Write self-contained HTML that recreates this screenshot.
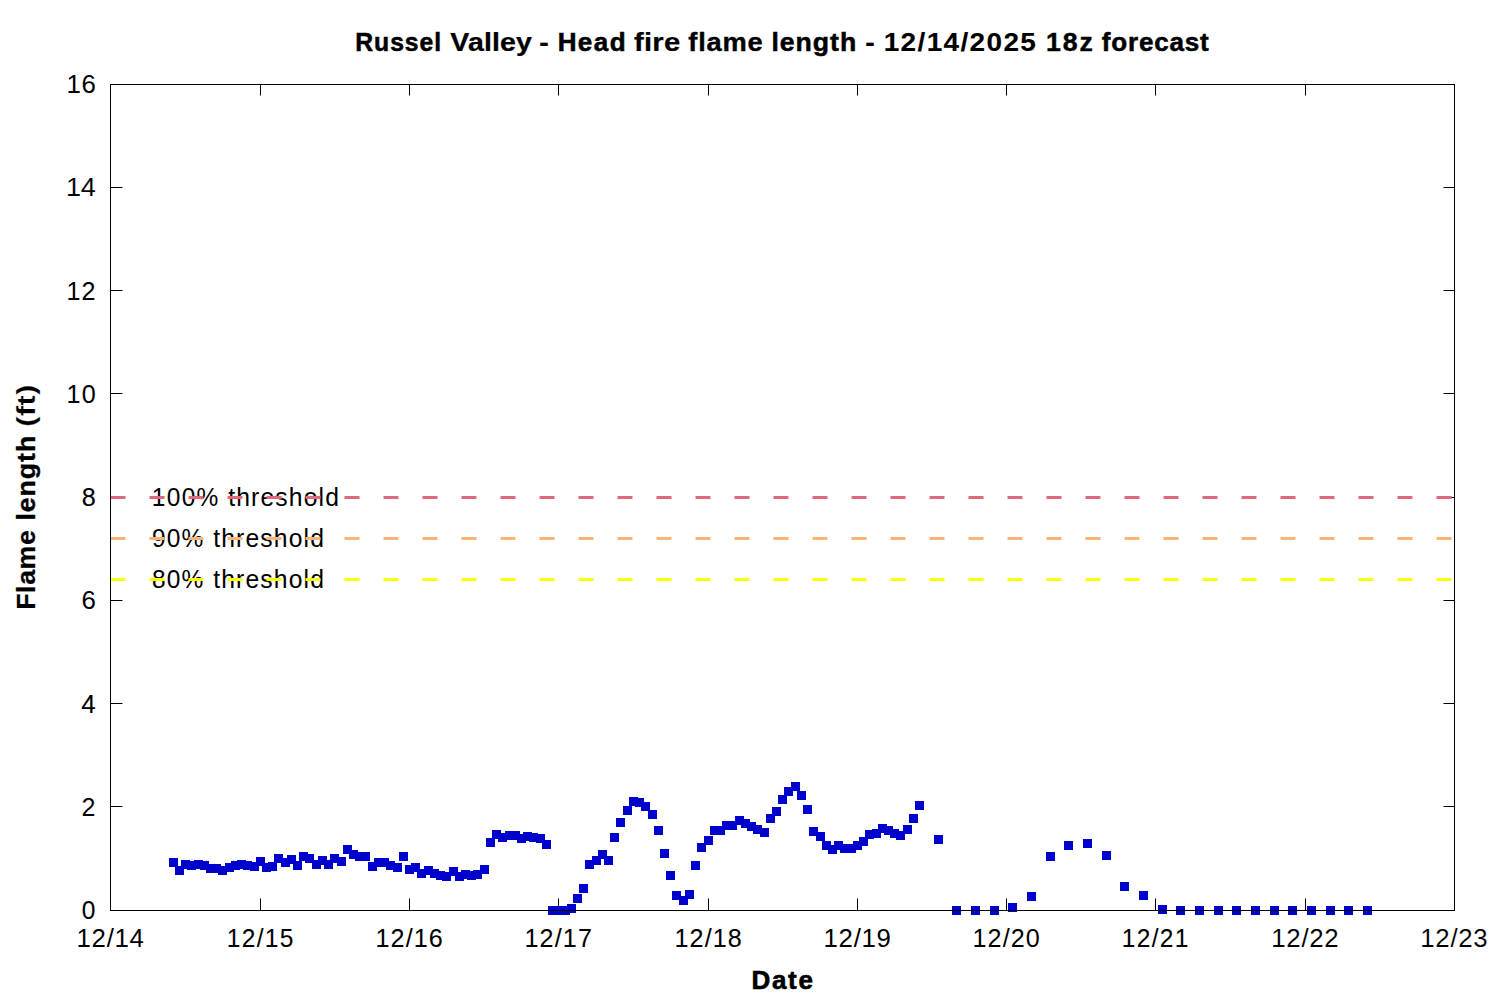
<!DOCTYPE html>
<html lang="en"><head><meta charset="utf-8"><title>Russel Valley - Head fire flame length</title>
<style>html,body{margin:0;padding:0;background:#fff;}body{width:1500px;height:1000px;overflow:hidden;font-family:"Liberation Sans",sans-serif;}svg{display:block;}text{font-family:"Liberation Sans",sans-serif;fill:#000;}.b{font-weight:bold;}</style>
</head><body>
<svg width="1500" height="1000" viewBox="0 0 1500 1000">
<rect x="0" y="0" width="1500" height="1000" fill="#ffffff"/>
<g id="title">
<text transform="translate(355.313 51) scale(0.975 1)" font-size="25.4" class="b" letter-spacing="0.95" stroke="#000" stroke-width="0.52">Russel</text>
<text transform="translate(450.313 51) scale(1.125 1)" font-size="25.4" class="b" letter-spacing="0.1" stroke="#000" stroke-width="0.25">Valley</text>
<text transform="translate(539.25 51) scale(1.125 1)" font-size="25.4" class="b" stroke="#000" stroke-width="0.25">-</text>
<text transform="translate(557.625 51) scale(1.025 1)" font-size="25.4" class="b" letter-spacing="1.4" stroke="#000" stroke-width="0.54">Head</text>
<text transform="translate(633.875 51) scale(1.15 1)" font-size="25.4" class="b" letter-spacing="0.25" stroke="#000" stroke-width="0.25">fire</text>
<text transform="translate(688.312 51) scale(1.075 1)" font-size="25.4" class="b" letter-spacing="0.7" stroke="#000" stroke-width="0.37">flame</text>
<text transform="translate(771.5 51) scale(1.05 1)" font-size="25.4" class="b" letter-spacing="0.9" stroke="#000" stroke-width="0.48">length</text>
<text transform="translate(865.25 51) scale(1.125 1)" font-size="25.4" class="b" stroke="#000" stroke-width="0.25">-</text>
<text transform="translate(883.688 51) scale(1.1 1)" font-size="25.4" class="b" letter-spacing="1.25" stroke="#000" stroke-width="0.1">12/14/2025</text>
<text transform="translate(1046 51) scale(1.05 1)" font-size="25.4" class="b" letter-spacing="1.8" stroke="#000" stroke-width="0.43">18z</text>
<text transform="translate(1101.75 51) scale(1.025 1)" font-size="25.4" class="b" letter-spacing="0.8" stroke="#000" stroke-width="0.52">forecast</text>
</g>
<g id="xlabel">
<text transform="translate(751.375 989) scale(1.025 1)" font-size="25.4" class="b" letter-spacing="1.7" stroke="#000" stroke-width="0.6">Date</text>
</g>
<g id="ylabel" transform="translate(35,610) rotate(-90)">
<text transform="translate(0.189 0) scale(1.05 1)" font-size="25.4" class="b" letter-spacing="0.6" stroke="#000" stroke-width="0.26">Flame</text>
<text transform="translate(89.5 0) scale(1.05 1)" font-size="25.4" class="b" letter-spacing="0.9" stroke="#000" stroke-width="0.33">length</text>
<text transform="translate(183.25 0) scale(1.2 1)" font-size="25.4" class="b" letter-spacing="0.4" stroke="#fff" stroke-width="0.19">(ft)</text>
</g>
<g id="yt">
<text transform="translate(81.75 919) scale(0.95 1)" font-size="25.8" stroke="#000" stroke-width="0.12">0</text>
<text transform="translate(81.5 816) scale(0.975 1)" font-size="25.8" stroke="#fff" stroke-width="0.07">2</text>
<text transform="translate(81.25 713) scale(1 1)" font-size="25.8" stroke="#000" stroke-width="0.13">4</text>
<text transform="translate(81.5 609) scale(1 1)" font-size="25.8">6</text>
<text transform="translate(81.75 506) scale(0.975 1)" font-size="25.8" stroke="#000" stroke-width="0.14">8</text>
<text transform="translate(66.5 403) scale(0.975 1)" font-size="25.8" letter-spacing="1.4" stroke="#000" stroke-width="0.07">10</text>
<text transform="translate(66.5 300) scale(0.975 1)" font-size="25.8" letter-spacing="1">12</text>
<text transform="translate(66 196) scale(1.05 1)" font-size="25.8" letter-spacing="-0.4" stroke="#fff" stroke-width="0.08">14</text>
<text transform="translate(66.5 93) scale(1 1)" font-size="25.8" letter-spacing="0.6">16</text>
</g>
<g id="xt">
<text transform="translate(76.562 947) scale(1 1)" font-size="25.8" letter-spacing="0.7">12/14</text>
<text transform="translate(226.75 947) scale(0.95 1)" font-size="25.8" letter-spacing="1.4" stroke="#000" stroke-width="0.07">12/15</text>
<text transform="translate(375.562 947) scale(0.975 1)" font-size="25.8" letter-spacing="1.1" stroke="#000" stroke-width="0.07">12/16</text>
<text transform="translate(524.375 947) scale(0.975 1)" font-size="25.8" letter-spacing="1.2" stroke="#000" stroke-width="0.08">12/17</text>
<text transform="translate(674.562 947) scale(0.975 1)" font-size="25.8" letter-spacing="1.1" stroke="#000" stroke-width="0.08">12/18</text>
<text transform="translate(823.562 947) scale(1 1)" font-size="25.8" letter-spacing="0.7">12/19</text>
<text transform="translate(972.438 947) scale(0.975 1)" font-size="25.8" letter-spacing="1.15">12/20</text>
<text transform="translate(1121.75 947) scale(0.95 1)" font-size="25.8" letter-spacing="1.4" stroke="#000" stroke-width="0.09">12/21</text>
<text transform="translate(1271.312 947) scale(1 1)" font-size="25.8" letter-spacing="0.7" stroke="#fff" stroke-width="0.08">12/22</text>
<text transform="translate(1420.312 947) scale(1 1)" font-size="25.8" letter-spacing="0.7" stroke="#fff" stroke-width="0.1">12/23</text>
</g>
<g id="thr">
<text transform="translate(151.75 506) scale(0.95 1)" font-size="25.8" letter-spacing="1.4">100%</text>
<text transform="translate(228.125 506) scale(0.975 1)" font-size="25.3" letter-spacing="1.2" stroke="#000" stroke-width="0.05">threshold</text>
<text transform="translate(152 547) scale(0.95 1)" font-size="25.8" letter-spacing="1.2">90%</text>
<text transform="translate(213.125 547) scale(0.975 1)" font-size="25.3" letter-spacing="1.2" stroke="#000" stroke-width="0.05">threshold</text>
<text transform="translate(152 588) scale(0.95 1)" font-size="25.8" letter-spacing="1.2" stroke="#000" stroke-width="0.05">80%</text>
<text transform="translate(213.125 588) scale(0.975 1)" font-size="25.3" letter-spacing="1.2" stroke="#000" stroke-width="0.05">threshold</text>
</g>
<g stroke="#000" stroke-width="1" fill="none">
<path d="M260.5 910.5V898.5M260.5 84.5V95.5M409.5 910.5V898.5M409.5 84.5V95.5M558.5 910.5V898.5M558.5 84.5V95.5M708.5 910.5V898.5M708.5 84.5V95.5M857.5 910.5V898.5M857.5 84.5V95.5M1006.5 910.5V898.5M1006.5 84.5V95.5M1155.5 910.5V898.5M1155.5 84.5V95.5M1305.5 910.5V898.5M1305.5 84.5V95.5M110.5 187.5H122.5M1454.5 187.5H1443.5M110.5 290.5H122.5M1454.5 290.5H1443.5M110.5 393.5H122.5M1454.5 393.5H1443.5M110.5 497.5H122.5M1454.5 497.5H1443.5M110.5 600.5H122.5M1454.5 600.5H1443.5M110.5 703.5H122.5M1454.5 703.5H1443.5M110.5 806.5H122.5M1454.5 806.5H1443.5"/>
</g>
<line x1="110.5" y1="497.5" x2="1454.5" y2="497.5" stroke="#de687c" stroke-width="3" stroke-dasharray="15 24"/>
<line x1="110.5" y1="538.5" x2="1454.5" y2="538.5" stroke="#f9b479" stroke-width="3" stroke-dasharray="15 24"/>
<line x1="110.5" y1="579.5" x2="1454.5" y2="579.5" stroke="#ffff00" stroke-width="3" stroke-dasharray="15 24"/>
<g fill="#0000cd" shape-rendering="crispEdges">
<path d="M169 858h9v9h-9zM175 866h9v9h-9zM181 860h9v9h-9zM187 861h9v9h-9zM194 860h9v9h-9zM200 861h9v9h-9zM206 864h9v9h-9zM212 864h9v9h-9zM218 866h9v9h-9zM225 863h9v9h-9zM231 861h9v9h-9zM237 860h9v9h-9zM243 861h9v9h-9zM250 862h9v9h-9zM256 857h9v9h-9zM262 863h9v9h-9zM268 862h9v9h-9zM274 854h9v9h-9zM281 858h9v9h-9zM287 855h9v9h-9zM293 861h9v9h-9zM299 852h9v9h-9zM305 854h9v9h-9zM312 860h9v9h-9zM318 856h9v9h-9zM324 860h9v9h-9zM330 854h9v9h-9zM337 857h9v9h-9zM343 845h9v9h-9zM349 850h9v9h-9zM355 852h9v9h-9zM361 852h9v9h-9zM368 862h9v9h-9zM374 858h9v9h-9zM380 858h9v9h-9zM386 861h9v9h-9zM393 863h9v9h-9zM399 852h9v9h-9zM405 865h9v9h-9zM411 863h9v9h-9zM417 869h9v9h-9zM424 866h9v9h-9zM430 869h9v9h-9zM436 871h9v9h-9zM442 872h9v9h-9zM449 867h9v9h-9zM455 872h9v9h-9zM461 870h9v9h-9zM467 871h9v9h-9zM473 870h9v9h-9zM480 865h9v9h-9zM486 838h9v9h-9zM492 830h9v9h-9zM498 833h9v9h-9zM505 831h9v9h-9zM511 831h9v9h-9zM517 834h9v9h-9zM523 832h9v9h-9zM529 833h9v9h-9zM536 834h9v9h-9zM542 840h9v9h-9zM548 906h9v9h-9zM554 906h9v9h-9zM561 906h9v9h-9zM567 904h9v9h-9zM573 894h9v9h-9zM579 884h9v9h-9zM585 860h9v9h-9zM592 856h9v9h-9zM598 850h9v9h-9zM604 856h9v9h-9zM610 833h9v9h-9zM616 818h9v9h-9zM623 806h9v9h-9zM629 797h9v9h-9zM635 798h9v9h-9zM641 802h9v9h-9zM648 810h9v9h-9zM654 826h9v9h-9zM660 849h9v9h-9zM666 871h9v9h-9zM672 891h9v9h-9zM679 896h9v9h-9zM685 890h9v9h-9zM691 861h9v9h-9zM697 843h9v9h-9zM704 836h9v9h-9zM710 826h9v9h-9zM716 826h9v9h-9zM722 821h9v9h-9zM728 821h9v9h-9zM735 816h9v9h-9zM741 819h9v9h-9zM747 822h9v9h-9zM753 825h9v9h-9zM760 828h9v9h-9zM766 814h9v9h-9zM772 807h9v9h-9zM778 795h9v9h-9zM784 787h9v9h-9zM791 782h9v9h-9zM797 791h9v9h-9zM803 805h9v9h-9zM809 827h9v9h-9zM816 832h9v9h-9zM822 841h9v9h-9zM828 845h9v9h-9zM834 841h9v9h-9zM840 844h9v9h-9zM847 844h9v9h-9zM853 841h9v9h-9zM859 837h9v9h-9zM865 830h9v9h-9zM872 829h9v9h-9zM878 824h9v9h-9zM884 826h9v9h-9zM890 829h9v9h-9zM896 831h9v9h-9zM903 825h9v9h-9zM909 814h9v9h-9zM915 801h9v9h-9zM934 835h9v9h-9zM952 906h9v9h-9zM971 906h9v9h-9zM990 906h9v9h-9zM1008 903h9v9h-9zM1027 892h9v9h-9zM1046 852h9v9h-9zM1064 841h9v9h-9zM1083 839h9v9h-9zM1102 851h9v9h-9zM1120 882h9v9h-9zM1139 891h9v9h-9zM1158 905h9v9h-9zM1176 906h9v9h-9zM1195 906h9v9h-9zM1214 906h9v9h-9zM1232 906h9v9h-9zM1251 906h9v9h-9zM1270 906h9v9h-9zM1288 906h9v9h-9zM1307 906h9v9h-9zM1326 906h9v9h-9zM1344 906h9v9h-9zM1363 906h9v9h-9z"/>
</g>
<rect x="110.5" y="84.5" width="1344" height="826" fill="none" stroke="#000" stroke-width="1"/>
</svg></body></html>
